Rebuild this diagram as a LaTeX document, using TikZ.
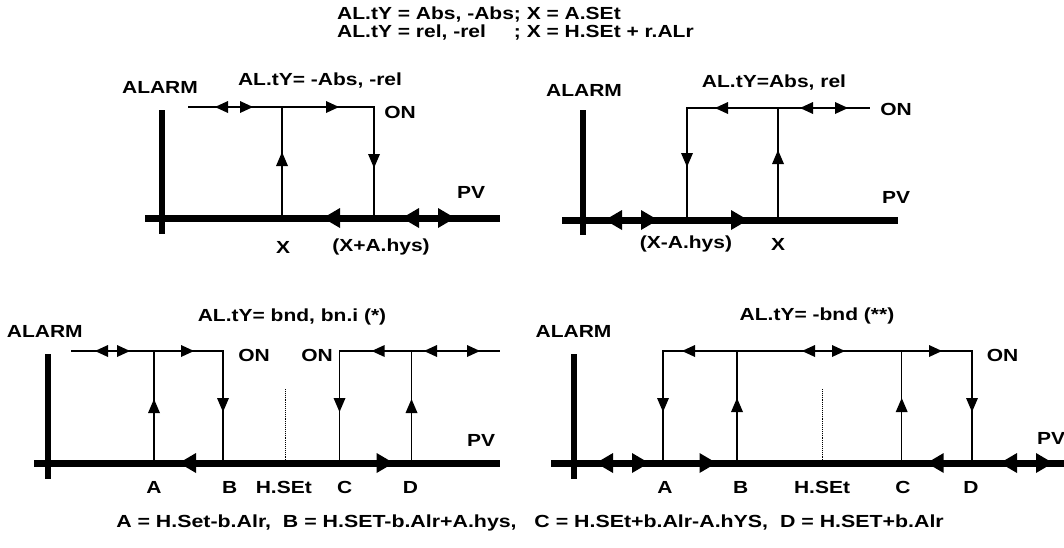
\documentclass[tikz,border=0pt]{standalone}
\usepackage{fontspec}
\setmainfont{Liberation Sans}
\newfontfamily\lblfont{Liberation Sans}[FakeStretch=1.2]
\newfontfamily\footfont{Liberation Sans}[FakeStretch=1.22]
\tikzset{
  sR/.pic={\fill (0,0) -- (-13,-6) -- (-13,6) -- cycle;},
  sL/.pic={\fill (0,0) -- (13,-6) -- (13,6) -- cycle;},
  sU/.pic={\fill (0,0) -- (-6,14) -- (6,14) -- cycle;},
  sD/.pic={\fill (0,0) -- (-6,-14) -- (6,-14) -- cycle;},
  bR/.pic={\fill (0,0) -- (-17,-10) -- (-17,10) -- cycle;},
  bL/.pic={\fill (0,0) -- (17,-10) -- (17,10) -- cycle;},
}
\begin{document}
\begin{tikzpicture}[x=1pt,y=-1pt,
  lbl/.style={inner sep=0pt, font=\fontsize{17.5}{18}\lblfont\bfseries},
  hdr/.style={inner sep=0pt, font=\fontsize{17.5}{18}\lblfont\bfseries},
  ftr/.style={inner sep=0pt, font=\fontsize{17.5}{18}\footfont\bfseries},
  thinln/.style={line width=1.2pt, line join=miter},
  axisln/.style={line width=7pt},
  barln/.style={line width=6pt},
  dblln/.style={line width=2.6pt},
  dotln/.style={line width=0.9pt, densely dotted},
]
\useasboundingbox (0,0) rectangle (1064,547);

% ---------------- header ----------------
\node[hdr, anchor=west] (hdr) at (337,25) {\begin{tabular}{@{}l@{}l@{}}AL.tY = Abs, -Abs&; X = A.SEt\\AL.tY = rel, -rel&; X = H.SEt + r.ALr\end{tabular}};

% ---------------- panel TL ----------------
\coordinate (tlX0) at (282,218);
\coordinate (tlX1) at (282,107);
\coordinate (tlH0) at (374,218);
\coordinate (tlH1) at (374,107);
\coordinate (tlS) at (188,107);
\draw[barln] (162,110) -- (162,234);
\draw[axisln] (145,218) -- (500,218);
\draw[thinln] (tlS) -- (tlH1) -- (tlH0);
\draw[thinln] (tlX0) -- (tlX1);
\draw[dblln] (220,107) -- (248,107);
\pic at (215,107) {sL}; \pic at (253,107) {sR};
\pic at (339,107) {sR};
\pic at (282,152) {sU};
\pic at (374,168) {sD};
\pic at (323,218) {bL};
\pic at (402,218) {bL}; \pic at (455,218) {bR};
\node[lbl] (tlalarm) at (160,87) {ALARM};
\node[lbl] (tltitle) at (320,81) {AL.tY= -Abs, -rel};
\node[lbl] (tlon) at (400,112) {ON};
\node[lbl] (tlpv) at (471,192) {PV};
\node[lbl] (tlx) at (283,247) {X};
\node[lbl] (tlxh) at (381,247) {(X+A.hys)};

% ---------------- panel TR ----------------
\coordinate (trA0) at (687,220);
\coordinate (trA1) at (687,108);
\coordinate (trE) at (870,108);
\coordinate (trX0) at (778,220);
\coordinate (trX1) at (778,108);
\draw[barln] (583,110) -- (583,235);
\draw[axisln] (562,220) -- (898,220);
\draw[thinln] (trA0) -- (trA1) -- (trE);
\draw[thinln] (trX0) -- (trX1);
\pic at (715,108) {sL};
\draw[dblln] (805,108) -- (843,108);
\pic at (800,108) {sL}; \pic at (848,108) {sR};
\pic at (687,167) {sD};
\pic at (778,150) {sU};
\pic at (605,220) {bL}; \pic at (658,220) {bR};
\pic at (748,220) {bR};
\node[lbl] (tralarm) at (584,90.5) {ALARM};
\node[lbl] (trtitle) at (774,83) {AL.tY=Abs, rel};
\node[lbl] (tron) at (896,109) {ON};
\node[lbl] (trpv) at (896,197) {PV};
\node[lbl] (trxh) at (686,244) {(X-A.hys)};
\node[lbl] (trx) at (778,244) {X};

% ---------------- panel BL ----------------
\coordinate (blS) at (71,351);
\coordinate (blA0) at (154,463);
\coordinate (blA1) at (154,351);
\coordinate (blB0) at (223,463);
\coordinate (blB1) at (223,351);
\coordinate (blC0) at (339.5,463);
\coordinate (blC1) at (339.5,351);
\coordinate (blD0) at (411.5,463);
\coordinate (blD1) at (411.5,351);
\coordinate (blE) at (500,351);
\draw[barln] (48,354) -- (48,479);
\draw[axisln] (34,463) -- (500,463);
\draw[dotln] (285.5,389) -- (285.5,464);
\draw[thinln] (blS) -- (blB1) -- (blB0);
\draw[thinln] (blA0) -- (blA1);
\draw[thinln] (blC0) -- (blC1) -- (blE);
\draw[thinln] (blD0) -- (blD1);
\draw[dblln] (100,351) -- (125,351);
\pic at (95,351) {sL}; \pic at (130,351) {sR};
\pic at (194,351) {sR};
\pic at (371.6,351) {sL};
\draw[dblln] (429,351) -- (475,351);
\pic at (424,351) {sL}; \pic at (480,351) {sR};
\pic at (154,399) {sU};
\pic at (223,412) {sD};
\pic at (339.5,412) {sD};
\pic at (411.5,399) {sU};
\pic at (179,463) {bL};
\pic at (393.6,463) {bR};
\node[lbl] (blalarm) at (44.8,331) {ALARM};
\node[lbl] (bltitle) at (292,317) {AL.tY= bnd, bn.i (*)};
\node[lbl] (blon1) at (254,355) {ON};
\node[lbl] (blon2) at (317,355) {ON};
\node[lbl] (blpv) at (481,440) {PV};
\node[lbl] (bla) at (154,487) {A};
\node[lbl] (blb) at (229.7,487) {B};
\node[lbl] (blh) at (283.8,487) {H.SEt};
\node[lbl] (blc) at (344.6,487) {C};
\node[lbl] (bld) at (410.5,487) {D};

% ---------------- panel BR ----------------
\coordinate (brA0) at (663,463);
\coordinate (brA1) at (663,351);
\coordinate (brB0) at (737,463);
\coordinate (brB1) at (737,351);
\coordinate (brC0) at (901.7,463);
\coordinate (brC1) at (901.7,351);
\coordinate (brD0) at (972,463);
\coordinate (brD1) at (972,351);
\draw[barln] (573.5,354) -- (573.5,479);
\draw[axisln] (551,463) -- (1064,463);
\draw[dotln] (822.5,389) -- (822.5,464);
\draw[thinln] (brA0) -- (brA1) -- (brD1) -- (brD0);
\draw[thinln] (brB0) -- (brB1);
\draw[thinln] (brC0) -- (brC1);
\pic at (682,351) {sL};
\draw[dblln] (807,351) -- (840,351);
\pic at (802,351) {sL}; \pic at (845,351) {sR};
\pic at (942,351) {sR};
\pic at (663,412) {sD};
\pic at (737,398) {sU};
\pic at (901.7,398) {sU};
\pic at (972,412) {sD};
\pic at (596,463) {bL}; \pic at (649,463) {bR};
\pic at (716.5,463) {bR};
\pic at (926.7,463) {bL};
\pic at (1000,463) {bL}; \pic at (1053,463) {bR};
\node[lbl] (bralarm) at (573.5,331.5) {ALARM};
\node[lbl] (brtitle) at (817,316) {AL.tY= -bnd (**)};
\node[lbl] (bron) at (1002.5,355) {ON};
\node[lbl, anchor=west] (brpv) at (1037,438) {PV};
\node[lbl] (bra) at (665,487) {A};
\node[lbl] (brb) at (740.7,487) {B};
\node[lbl] (brh) at (822,487) {H.SEt};
\node[lbl] (brc) at (903,487) {C};
\node[lbl] (brd) at (971,487) {D};

% ---------------- footer ----------------
\node[ftr] (foot) at (530,522.5) {A = H.Set-b.Alr,\ \ B = H.SET-b.Alr+A.hys,\ \ \ C = H.SEt+b.Alr-A.hYS,\ \ D = H.SET+b.Alr};
\end{tikzpicture}
\end{document}
